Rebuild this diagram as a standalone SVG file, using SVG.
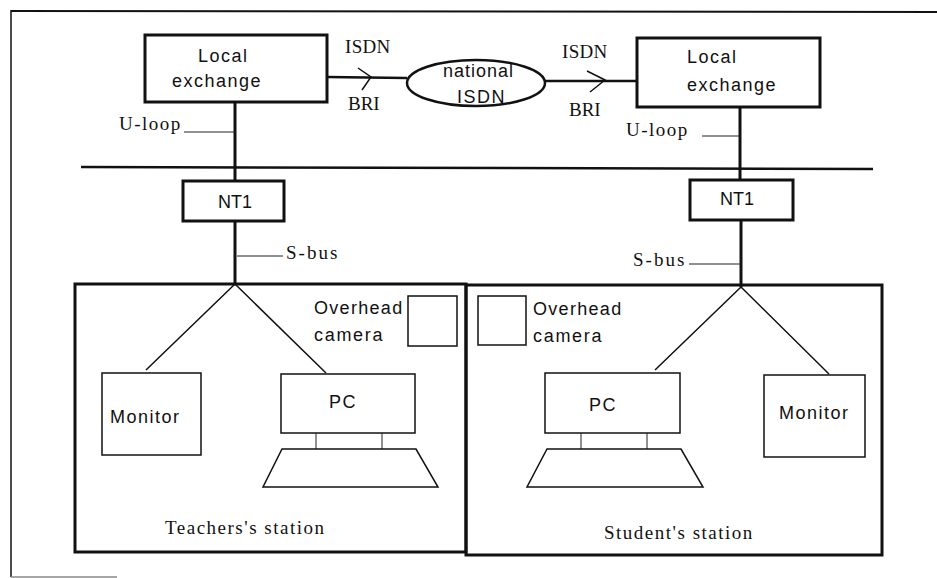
<svg xmlns="http://www.w3.org/2000/svg" width="937" height="578" viewBox="0 0 937 578">
<style>
.sans{font-family:"Liberation Sans",Arial,sans-serif;font-size:18px;letter-spacing:1.5px;fill:#111}
.serif{font-family:"Liberation Serif","Times New Roman",serif;font-size:19px;letter-spacing:1.5px;fill:#111}
.thick{fill:none;stroke:#111;stroke-width:3}
.med{fill:none;stroke:#111;stroke-width:2.5}
.thin{fill:none;stroke:#111;stroke-width:1.5}
.hair{fill:none;stroke:#222;stroke-width:1}
</style>
<rect width="937" height="578" fill="#fff"/>
<g id="frame">
<line x1="11" y1="11" x2="937" y2="12" stroke="#111" stroke-width="2"/>
<line x1="11" y1="10" x2="11" y2="577" stroke="#111" stroke-width="1.5"/>
<line x1="11" y1="577" x2="117" y2="577" stroke="#888" stroke-width="1.5"/>
</g>
<g id="connectors">
<line x1="327" y1="77" x2="407" y2="78" class="med"/>
<polyline points="358,68 371,77 362,90" class="thin"/>
<line x1="545" y1="81" x2="637" y2="81" class="med"/>
<polyline points="587,71 605,80 590,92" class="thin"/>
<line x1="235" y1="102" x2="235" y2="181" class="thick"/>
<line x1="184" y1="132" x2="235" y2="132" class="hair"/>
<line x1="740" y1="107" x2="740" y2="180" class="thick"/>
<line x1="702" y1="136" x2="740" y2="136" class="hair"/>
<line x1="81" y1="167" x2="873" y2="169" class="med"/>
<line x1="235" y1="221" x2="235" y2="284" class="thick"/>
<line x1="237" y1="256" x2="283" y2="256" class="hair"/>
<line x1="741" y1="220" x2="741" y2="287" class="thick"/>
<line x1="689" y1="264" x2="741" y2="264" class="hair"/>
<polyline points="146,370 235,284 326,373" class="thin"/>
<polyline points="655,370 741,287 829,374" class="thin"/>
</g>
<g id="local-exchange-left">
<rect x="145" y="35" width="182" height="67" class="thick"/>
<text x="198" y="62" class="sans">Local</text>
<text x="172" y="87" class="sans">exchange</text>
</g>
<g id="local-exchange-right">
<rect x="637" y="38" width="183" height="69" class="thick"/>
<text x="687" y="63" class="sans">Local</text>
<text x="687" y="91" class="sans">exchange</text>
</g>
<g id="national-isdn">
<ellipse cx="476" cy="83" rx="69" ry="23" class="med"/>
<text x="443" y="77" class="sans" style="letter-spacing:1px">national</text>
<text x="457" y="103" class="sans">ISDN</text>
</g>
<g id="labels">
<text x="345" y="53" class="serif" style="letter-spacing:0.3px">ISDN</text>
<text x="348" y="110" class="serif" style="letter-spacing:0">BRI</text>
<text x="562" y="58" class="serif" style="letter-spacing:0.3px">ISDN</text>
<text x="569" y="116" class="serif" style="letter-spacing:0">BRI</text>
<text x="119" y="130" class="serif">U-loop</text>
<text x="626" y="136" class="serif">U-loop</text>
<text x="286" y="259" class="serif" style="letter-spacing:2px">S-bus</text>
<text x="633" y="266" class="serif" style="letter-spacing:2px">S-bus</text>
</g>
<g id="nt1-left">
<rect x="183" y="181" width="101" height="40" class="thick"/>
<text x="218" y="208" class="sans" style="letter-spacing:0">NT1</text>
</g>
<g id="nt1-right">
<rect x="690" y="180" width="103" height="40" class="thick"/>
<text x="720" y="205" class="sans" style="letter-spacing:0">NT1</text>
</g>
<g id="teachers-station">
<rect x="75" y="284" width="391" height="268" class="thick"/>
<text x="165" y="534" class="serif">Teachers's station</text>
</g>
<g id="students-station">
<rect x="466" y="285" width="416" height="270" class="thick"/>
<text x="604" y="539" class="serif">Student's station</text>
</g>
<g id="camera-left">
<rect x="408" y="296" width="49" height="50" class="thin"/>
<text x="314" y="314" class="sans" style="letter-spacing:1.3px">Overhead</text>
<text x="314" y="341" class="sans" style="letter-spacing:1.7px">camera</text>
</g>
<g id="camera-right">
<rect x="478" y="296" width="48" height="49" class="thin"/>
<text x="533" y="315" class="sans" style="letter-spacing:1.3px">Overhead</text>
<text x="533" y="342" class="sans" style="letter-spacing:1.7px">camera</text>
</g>
<g id="monitor-left">
<rect x="102" y="373" width="99" height="82" class="thin"/>
<text x="110" y="423" class="sans">Monitor</text>
</g>
<g id="pc-left">
<rect x="281" y="374" width="134" height="59" class="thin"/>
<text x="329" y="408" class="sans">PC</text>
<line x1="316" y1="433" x2="316" y2="449" class="hair"/>
<line x1="382" y1="433" x2="382" y2="449" class="hair"/>
<polygon points="282,449 416,449 438,487 263,487" class="thin"/>
</g>
<g id="pc-right">
<rect x="545" y="373" width="135" height="60" class="thin"/>
<text x="589" y="411" class="sans">PC</text>
<line x1="581" y1="433" x2="581" y2="449" class="hair"/>
<line x1="647" y1="433" x2="647" y2="449" class="hair"/>
<polygon points="547,449 681,449 703,487 527,487" class="thin"/>
</g>
<g id="monitor-right">
<rect x="764" y="375" width="101" height="82" class="thin"/>
<text x="779" y="419" class="sans">Monitor</text>
</g>
</svg>
